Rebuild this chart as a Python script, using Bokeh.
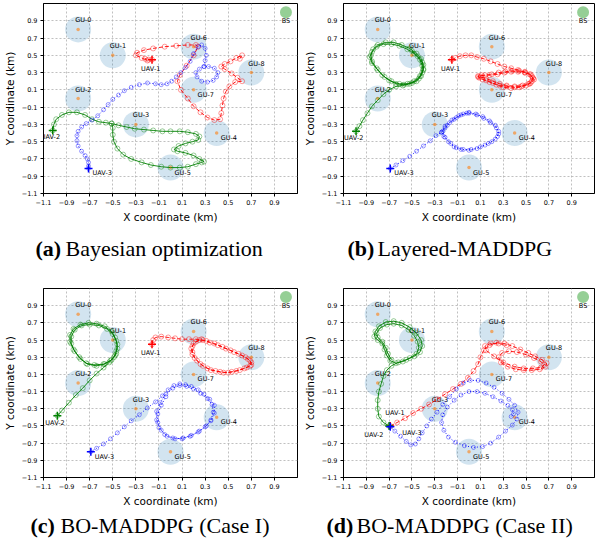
from bokeh.plotting import figure
from bokeh.layouts import column, row
from bokeh.models import FixedTicker, CustomJSTickFormatter, Range1d
from bokeh.embed import file_html
from bokeh.resources import INLINE
from bokeh.core.properties import value

# ---------------- data ----------------
TICKS = [-1.1, -0.9, -0.7, -0.5, -0.3, -0.1, 0.1, 0.3, 0.5, 0.7, 0.9]
TICK_LABELS = ["\u22121.1", "\u22120.9", "\u22120.7", "\u22120.5", "\u22120.3", "\u22120.1",
               "0.1", "0.3", "0.5", "0.7", "0.9"]

GU_NAMES = ["GU-0", "GU-1", "GU-2", "GU-3", "GU-4", "GU-5", "GU-6", "GU-7", "GU-8"]
GU_X = [-0.8, -0.5, -0.8, -0.3, 0.4, 0.0, 0.2, 0.2, 0.7]
GU_Y = [0.8, 0.5, 0.0, -0.3, -0.4, -0.8, 0.6, 0.1, 0.3]
GU_LABEL_SIDE = ["above", "above", "above", "above", "right", "right", "above", "right", "above"]
BS_X = [1.0]
BS_Y = [1.0]
BS_NAME = ["BS"]

UAV_NAMES = ["UAV-1", "UAV-2", "UAV-3"]
UAV_COLORS = ["#ff0000", "#008000", "#0000ff"]

CAPTION_TAGS = ["(a)", "(b)", "(c)", "(d)"]
CAPTION_TEXTS = ["Bayesian optimization", "Layered-MADDPG", "BO-MADDPG (Case I)", "BO-MADDPG (Case II)"]

# (a) Bayesian optimization
A_UAV1 = [(-0.16, 0.45), (-0.19, 0.45), (-0.22, 0.46), (-0.2, 0.44), (-0.25, 0.47), (-0.3, 0.5),
          (-0.29, 0.53), (-0.23, 0.56), (-0.15, 0.58), (-0.05, 0.6), (0.05, 0.61), (0.15, 0.62),
          (0.22, 0.62), (0.24, 0.6), (0.2, 0.5), (0.14, 0.38), (0.08, 0.27), (0.06, 0.2), (0.09, 0.1),
          (0.15, 0.0), (0.2, -0.09), (0.26, -0.16), (0.32, -0.22), (0.38, -0.25), (0.43, -0.24),
          (0.44, -0.17), (0.45, -0.08), (0.46, 0.0), (0.48, 0.08), (0.51, 0.14), (0.56, 0.19),
          (0.62, 0.2), (0.58, 0.24), (0.53, 0.29), (0.47, 0.34), (0.44, 0.37), (0.47, 0.4),
          (0.52, 0.43), (0.57, 0.47), (0.62, 0.5), (0.6, 0.46)]
A_UAV2 = [(-1.02, -0.37), (-1.01, -0.3), (-0.99, -0.24), (-0.94, -0.19), (-0.88, -0.16), (-0.81, -0.16),
          (-0.74, -0.19), (-0.68, -0.24), (-0.62, -0.27), (-0.56, -0.28), (-0.51, -0.29), (-0.5, -0.34),
          (-0.5, -0.42), (-0.49, -0.5), (-0.46, -0.58), (-0.41, -0.65), (-0.34, -0.7), (-0.25, -0.74),
          (-0.17, -0.77), (-0.08, -0.79), (0.0, -0.8), (0.08, -0.8), (0.15, -0.79), (0.22, -0.76),
          (0.27, -0.74), (0.29, -0.73), (0.25, -0.7), (0.2, -0.66), (0.13, -0.63), (0.06, -0.61),
          (0.03, -0.59), (0.07, -0.55), (0.13, -0.52), (0.19, -0.5), (0.24, -0.48), (0.25, -0.44),
          (0.22, -0.41), (0.15, -0.39), (0.08, -0.38), (0.0, -0.38), (-0.07, -0.38), (-0.15, -0.37),
          (-0.23, -0.36), (-0.31, -0.35), (-0.38, -0.33), (-0.45, -0.31), (-0.51, -0.29)]
A_UAV3 = [(-0.71, -0.81), (-0.71, -0.78), (-0.71, -0.74), (-0.72, -0.7), (-0.74, -0.66), (-0.77, -0.61),
          (-0.8, -0.55), (-0.81, -0.49), (-0.81, -0.43), (-0.8, -0.38), (-0.77, -0.33), (-0.73, -0.29),
          (-0.68, -0.25), (-0.63, -0.2), (-0.58, -0.13), (-0.54, -0.07), (-0.5, -0.01), (-0.45, 0.04),
          (-0.4, 0.09), (-0.34, 0.13), (-0.27, 0.16), (-0.2, 0.18), (-0.13, 0.17), (-0.08, 0.16),
          (-0.03, 0.17), (0.01, 0.2), (0.05, 0.25), (0.09, 0.3), (0.13, 0.36), (0.17, 0.43), (0.2, 0.52),
          (0.24, 0.6), (0.27, 0.62), (0.3, 0.58), (0.31, 0.5), (0.3, 0.44), (0.29, 0.37), (0.25, 0.34),
          (0.22, 0.3), (0.23, 0.25), (0.27, 0.2), (0.32, 0.19), (0.37, 0.21), (0.4, 0.25), (0.41, 0.3),
          (0.38, 0.35), (0.33, 0.37), (0.29, 0.37)]

# (b) Layered-MADDPG
B_UAV1 = [(-0.15, 0.45), (-0.12, 0.47), (-0.08, 0.49), (-0.03, 0.5), (0.02, 0.5), (0.07, 0.48), (0.13, 0.46),
          (0.19, 0.43), (0.25, 0.4), (0.31, 0.37), (0.37, 0.35), (0.43, 0.33), (0.49, 0.3), (0.53, 0.28),
          (0.56, 0.24), (0.55, 0.2), (0.52, 0.17), (0.46, 0.14), (0.4, 0.13), (0.33, 0.14), (0.27, 0.15),
          (0.21, 0.18), (0.15, 0.21), (0.09, 0.24), (0.08, 0.26), (0.14, 0.27), (0.2, 0.28), (0.26, 0.3),
          (0.32, 0.31), (0.38, 0.32), (0.44, 0.32), (0.49, 0.31), (0.54, 0.28), (0.56, 0.23), (0.54, 0.18),
          (0.5, 0.15), (0.44, 0.13), (0.37, 0.12), (0.3, 0.13), (0.24, 0.16), (0.18, 0.19), (0.12, 0.22),
          (0.08, 0.25), (0.11, 0.27), (0.18, 0.27), (0.25, 0.28), (0.31, 0.3), (0.37, 0.31), (0.43, 0.31),
          (0.49, 0.3), (0.55, 0.26), (0.57, 0.22), (0.53, 0.17), (0.47, 0.15), (0.4, 0.14), (0.33, 0.15),
          (0.27, 0.17), (0.21, 0.2), (0.15, 0.23), (0.1, 0.25)]
B_UAV2 = [(-0.99, -0.38), (-0.96, -0.32), (-0.93, -0.25), (-0.89, -0.17), (-0.85, -0.09), (-0.8, -0.02),
          (-0.75, 0.05), (-0.7, 0.1), (-0.64, 0.14), (-0.58, 0.15), (-0.52, 0.17), (-0.46, 0.2), (-0.42, 0.26),
          (-0.4, 0.33), (-0.4, 0.39), (-0.42, 0.46), (-0.46, 0.52), (-0.52, 0.58), (-0.59, 0.62), (-0.66, 0.65),
          (-0.73, 0.65), (-0.8, 0.62), (-0.84, 0.57), (-0.86, 0.5), (-0.85, 0.43), (-0.81, 0.35), (-0.76, 0.27),
          (-0.7, 0.21), (-0.64, 0.17), (-0.57, 0.16), (-0.5, 0.18), (-0.44, 0.23), (-0.41, 0.3), (-0.41, 0.38),
          (-0.43, 0.45), (-0.48, 0.52), (-0.54, 0.57), (-0.61, 0.61), (-0.68, 0.63), (-0.75, 0.63), (-0.81, 0.6),
          (-0.85, 0.54), (-0.87, 0.48), (-0.85, 0.41), (-0.8, 0.33), (-0.74, 0.25), (-0.68, 0.2), (-0.61, 0.17),
          (-0.54, 0.17), (-0.48, 0.2), (-0.43, 0.26), (-0.4, 0.34), (-0.41, 0.42), (-0.45, 0.49), (-0.5, 0.55)]
B_UAV3 = [(-0.69, -0.81), (-0.64, -0.77), (-0.58, -0.72), (-0.52, -0.67), (-0.46, -0.61), (-0.4, -0.55),
          (-0.34, -0.49), (-0.29, -0.43), (-0.24, -0.39), (-0.21, -0.34), (-0.17, -0.28), (-0.11, -0.22),
          (-0.05, -0.18), (0.0, -0.16), (0.06, -0.18), (0.12, -0.21), (0.18, -0.26), (0.23, -0.31),
          (0.26, -0.38), (0.25, -0.44), (0.2, -0.5), (0.14, -0.54), (0.07, -0.58), (0.0, -0.6), (-0.07, -0.59),
          (-0.13, -0.56), (-0.18, -0.5), (-0.22, -0.44), (-0.23, -0.38), (-0.19, -0.31), (-0.13, -0.24),
          (-0.07, -0.19), (0.0, -0.17), (0.07, -0.19), (0.13, -0.23), (0.19, -0.28), (0.24, -0.34),
          (0.26, -0.41), (0.23, -0.47), (0.17, -0.52), (0.1, -0.56), (0.02, -0.59), (-0.05, -0.59),
          (-0.11, -0.57), (-0.16, -0.52), (-0.21, -0.45), (-0.24, -0.39), (-0.21, -0.32), (-0.15, -0.25),
          (-0.09, -0.2), (-0.02, -0.17)]

# (c) BO-MADDPG (Case I)
C_UAV1 = [(-0.16, 0.45), (-0.15, 0.5), (-0.13, 0.53), (-0.08, 0.54), (-0.02, 0.53), (0.04, 0.52), (0.1, 0.51),
          (0.16, 0.51), (0.22, 0.51), (0.28, 0.5), (0.34, 0.47), (0.41, 0.44), (0.48, 0.4), (0.55, 0.36),
          (0.62, 0.32), (0.67, 0.28), (0.7, 0.24), (0.69, 0.2), (0.64, 0.17), (0.57, 0.14), (0.5, 0.12),
          (0.43, 0.13), (0.35, 0.15), (0.28, 0.2), (0.23, 0.26), (0.19, 0.33), (0.18, 0.4), (0.2, 0.46),
          (0.25, 0.5), (0.31, 0.49), (0.38, 0.46), (0.45, 0.42), (0.52, 0.38), (0.59, 0.34), (0.65, 0.3),
          (0.69, 0.26), (0.7, 0.21), (0.66, 0.18), (0.6, 0.15), (0.53, 0.13), (0.46, 0.12), (0.39, 0.14),
          (0.32, 0.17), (0.26, 0.22), (0.21, 0.29), (0.19, 0.36), (0.19, 0.43), (0.22, 0.48), (0.27, 0.51)]
C_UAV2 = [(-0.98, -0.38), (-0.94, -0.32), (-0.88, -0.23), (-0.82, -0.14), (-0.76, -0.06), (-0.7, 0.03),
          (-0.64, 0.11), (-0.58, 0.18), (-0.53, 0.24), (-0.49, 0.3), (-0.47, 0.37), (-0.46, 0.45), (-0.48, 0.53),
          (-0.51, 0.6), (-0.57, 0.66), (-0.64, 0.69), (-0.71, 0.7), (-0.78, 0.68), (-0.84, 0.63), (-0.87, 0.56),
          (-0.87, 0.48), (-0.84, 0.39), (-0.79, 0.3), (-0.73, 0.23), (-0.66, 0.21), (-0.58, 0.22), (-0.52, 0.26),
          (-0.48, 0.32), (-0.46, 0.4), (-0.47, 0.49), (-0.5, 0.57), (-0.55, 0.63), (-0.62, 0.67), (-0.7, 0.68),
          (-0.77, 0.67), (-0.83, 0.62), (-0.86, 0.54), (-0.86, 0.46), (-0.83, 0.37), (-0.78, 0.28), (-0.72, 0.22),
          (-0.64, 0.2), (-0.57, 0.22), (-0.51, 0.27), (-0.47, 0.34)]
C_UAV3 = [(-0.69, -0.8), (-0.64, -0.76), (-0.58, -0.71), (-0.52, -0.65), (-0.46, -0.58), (-0.4, -0.51),
          (-0.34, -0.44), (-0.27, -0.37), (-0.2, -0.29), (-0.13, -0.22), (-0.07, -0.15), (-0.02, -0.08),
          (0.03, -0.03), (0.08, -0.01), (0.13, -0.02), (0.18, -0.04), (0.24, -0.08), (0.29, -0.13), (0.34, -0.19),
          (0.38, -0.26), (0.38, -0.35), (0.35, -0.44), (0.3, -0.51), (0.24, -0.57), (0.17, -0.62), (0.1, -0.65),
          (0.02, -0.64), (-0.05, -0.6), (-0.1, -0.52), (-0.12, -0.43), (-0.12, -0.33), (-0.09, -0.23),
          (-0.04, -0.13), (0.02, -0.06), (0.08, -0.03), (0.14, -0.04), (0.2, -0.07), (0.26, -0.12), (0.32, -0.18),
          (0.36, -0.25), (0.37, -0.34), (0.35, -0.43), (0.31, -0.5), (0.25, -0.56), (0.18, -0.61), (0.11, -0.64),
          (0.04, -0.65), (-0.03, -0.62), (-0.08, -0.55), (-0.11, -0.46), (-0.11, -0.36), (-0.08, -0.26),
          (-0.04, -0.16)]

# (d) BO-MADDPG (Case II)
D_UAV1 = [(-0.69, -0.5), (-0.63, -0.46), (-0.56, -0.41), (-0.49, -0.35), (-0.42, -0.3), (-0.35, -0.25),
          (-0.28, -0.19), (-0.21, -0.13), (-0.14, -0.07), (-0.07, -0.01), (-0.01, 0.06), (0.04, 0.14),
          (0.08, 0.22), (0.1, 0.3), (0.13, 0.38), (0.18, 0.44), (0.24, 0.47), (0.31, 0.46), (0.38, 0.43),
          (0.45, 0.39), (0.52, 0.35), (0.58, 0.31), (0.64, 0.27), (0.68, 0.23), (0.67, 0.19), (0.62, 0.16),
          (0.55, 0.15), (0.48, 0.15), (0.41, 0.16), (0.34, 0.19), (0.28, 0.24), (0.26, 0.3), (0.29, 0.35),
          (0.35, 0.37), (0.42, 0.36), (0.5, 0.33), (0.57, 0.29), (0.63, 0.25), (0.66, 0.21), (0.63, 0.18),
          (0.56, 0.17), (0.48, 0.17), (0.4, 0.19), (0.3, 0.24), (0.22, 0.31), (0.15, 0.38), (0.14, 0.43),
          (0.19, 0.46), (0.26, 0.46), (0.33, 0.44)]
D_UAV2 = [(-0.7, -0.5), (-0.75, -0.46), (-0.79, -0.39), (-0.8, -0.3), (-0.8, -0.2), (-0.79, -0.1),
          (-0.77, -0.01), (-0.75, 0.08), (-0.72, 0.15), (-0.68, 0.2), (-0.62, 0.24), (-0.55, 0.27), (-0.48, 0.31),
          (-0.43, 0.36), (-0.41, 0.43), (-0.42, 0.5), (-0.46, 0.58), (-0.52, 0.65), (-0.59, 0.7), (-0.66, 0.72),
          (-0.73, 0.71), (-0.79, 0.66), (-0.82, 0.6), (-0.83, 0.54), (-0.8, 0.5), (-0.76, 0.46), (-0.74, 0.39),
          (-0.72, 0.32), (-0.69, 0.26), (-0.64, 0.23), (-0.58, 0.25), (-0.52, 0.29), (-0.46, 0.34), (-0.44, 0.41),
          (-0.45, 0.48), (-0.48, 0.55), (-0.53, 0.62), (-0.59, 0.67), (-0.66, 0.69), (-0.72, 0.68), (-0.78, 0.64),
          (-0.81, 0.58), (-0.8, 0.53), (-0.76, 0.48), (-0.73, 0.41), (-0.71, 0.34), (-0.68, 0.27)]
D_UAV3 = [(-0.69, -0.51), (-0.65, -0.56), (-0.6, -0.62), (-0.55, -0.68), (-0.51, -0.72), (-0.47, -0.71),
          (-0.44, -0.65), (-0.41, -0.58), (-0.37, -0.5), (-0.33, -0.42), (-0.28, -0.34), (-0.23, -0.25),
          (-0.17, -0.16), (-0.11, -0.07), (-0.05, 0.0), (0.01, 0.03), (0.08, 0.03), (0.15, 0.0), (0.22, -0.05),
          (0.29, -0.12), (0.35, -0.19), (0.4, -0.26), (0.43, -0.34), (0.42, -0.42), (0.38, -0.49), (0.32, -0.56),
          (0.26, -0.63), (0.19, -0.7), (0.12, -0.74), (0.04, -0.75), (-0.04, -0.73), (-0.12, -0.69),
          (-0.18, -0.63), (-0.22, -0.55), (-0.24, -0.46), (-0.23, -0.37), (-0.19, -0.28), (-0.13, -0.2),
          (-0.07, -0.14), (0.0, -0.1), (0.07, -0.1), (0.14, -0.12), (0.21, -0.16), (0.28, -0.21), (0.34, -0.26),
          (0.38, -0.31), (0.39, -0.36), (0.37, -0.39)]

PANEL_TRAJS = [[A_UAV1, A_UAV2, A_UAV3], [B_UAV1, B_UAV2, B_UAV3],
               [C_UAV1, C_UAV2, C_UAV3], [D_UAV1, D_UAV2, D_UAV3]]

# ---------------- styling / layout ----------------
COL_W = [299, 296]            # left / right column widths
COL_BORDER_L = [42, 44]
COL_BORDER_R = [2, 1]
LINE_DASH = ["4 2", "solid", "1 2"]
MARKER_SIZE = [5, 5, 4]
UAV_LABEL_OFFSETS_STD = [(-11, 9), (-12, 7), (4, 5)]
UAV_LABEL_OFFSETS_D = [(-5, -13), (-25, 9), (12, 6)]
CAPTION_TEXT_X = [65, 78, 60, 57]   # px from the caption strip's left edge
CAPTION_TAG_GAP = 30               # tag starts this many px before the text
FONT = "DejaVu Sans"
SERIF = "Liberation Serif"

fmt = CustomJSTickFormatter(args=dict(tvals=TICKS, tlabels=TICK_LABELS), code="""
let best = 0;
for (let i = 0; i < tvals.length; i++) {
  if (Math.abs(tvals[i] - tick) < Math.abs(tvals[best] - tick)) best = i;
}
return tlabels[best];
""")


def make_panel(idx, height, border_bottom):
    colno = idx % 2
    p = figure(width=COL_W[colno], height=height, x_range=Range1d(-1.1, 1.1), y_range=Range1d(-1.1, 1.1),
               output_backend="svg", toolbar_location=None,
               min_border_left=COL_BORDER_L[colno], min_border_right=COL_BORDER_R[colno],
               min_border_top=3, min_border_bottom=border_bottom)
    p.outline_line_color = "black"
    p.outline_line_width = 1
    p.background_fill_color = "white"
    p.border_fill_color = "white"
    for ax in (p.xaxis, p.yaxis):
        ax.ticker = FixedTicker(ticks=TICKS)
        ax.formatter = fmt
        ax.major_label_text_font = FONT
        ax.major_label_text_font_size = "6.5px"
        ax.major_label_text_color = "black"
        ax.axis_label_text_font = FONT
        ax.axis_label_text_font_size = "10.5px"
        ax.axis_label_text_font_style = "normal"
        ax.axis_label_text_color = "black"
        ax.axis_line_color = "black"
        ax.major_tick_line_color = "black"
        ax.major_tick_out = 3
        ax.major_tick_in = 0
        ax.minor_tick_out = 0
        ax.minor_tick_in = 0
        ax.major_label_standoff = 3
        ax.axis_label_standoff = 3
    p.xaxis.axis_label = "X coordinate (km)"
    p.yaxis.axis_label = "Y coordinate (km)"
    for g in (p.xgrid, p.ygrid):
        g.ticker = FixedTicker(ticks=TICKS)
        g.grid_line_color = "#b0b0b0"
        g.grid_line_dash = "2 2"
        g.grid_line_alpha = 0.8

    # ground units and base station
    p.scatter(GU_X, GU_Y, size=26, fill_color="#1f77b4", fill_alpha=0.2, line_color=None)
    p.scatter(GU_X, GU_Y, size=3.5, fill_color="#ff7f0e", fill_alpha=0.6, line_color=None)
    p.scatter(BS_X, BS_Y, size=12, fill_color="#2ca02c", fill_alpha=0.5, line_color=None)

    for side, xo, yo in (("above", -3, -9), ("right", 4, 5)):
        sel = [i for i, s in enumerate(GU_LABEL_SIDE) if s == side]
        p.text([GU_X[i] for i in sel], [GU_Y[i] for i in sel], text=[GU_NAMES[i] for i in sel],
               x_offset=xo, y_offset=yo, text_font=value(FONT), text_font_size="6.5px",
               text_baseline="middle", text_align="left", text_color="black")
    p.text(BS_X, BS_Y, text=BS_NAME, y_offset=9, text_font=value(FONT), text_font_size="6.5px",
           text_baseline="middle", text_align="center", text_color="black")

    offsets = UAV_LABEL_OFFSETS_D if idx == 3 else UAV_LABEL_OFFSETS_STD
    for k, traj in enumerate(PANEL_TRAJS[idx]):
        xs = [pt[0] for pt in traj]
        ys = [pt[1] for pt in traj]
        col = UAV_COLORS[k]
        p.line(xs, ys, line_color=col, line_width=1, line_dash=LINE_DASH[k], line_alpha=0.9)
        p.scatter(xs, ys, marker="circle", size=MARKER_SIZE[k], fill_color=None,
                  line_color=col, line_alpha=0.4, line_width=1)
        p.scatter(xs[:1], ys[:1], marker="cross", size=8, line_color=col, line_width=1.5)
        p.text(xs[:1], ys[:1], text=[UAV_NAMES[k]], x_offset=offsets[k][0], y_offset=offsets[k][1],
               text_font=value(FONT), text_font_size="6.5px", text_baseline="middle",
               text_align="left", text_color="black")
    return p


def make_caption(idx, height, baseline_from_top):
    w = COL_W[idx % 2]
    c = figure(width=w, height=height, x_range=Range1d(0, w), y_range=Range1d(0, height),
               output_backend="svg", toolbar_location=None, x_axis_type=None, y_axis_type=None,
               min_border=0)
    c.outline_line_color = None
    c.grid.visible = False
    c.background_fill_color = "white"
    c.border_fill_color = "white"
    yb = height - baseline_from_top
    xt = CAPTION_TEXT_X[idx]
    c.text([xt - CAPTION_TAG_GAP], [yb], text=[CAPTION_TAGS[idx]], text_font=value(SERIF),
           text_font_style="bold", text_font_size="22px", text_baseline="alphabetic",
           text_align="left", text_color="black")
    c.text([xt], [yb], text=[CAPTION_TEXTS[idx]], text_font=value(SERIF),
           text_font_size="22px", text_baseline="alphabetic", text_align="left", text_color="black")
    return c


pa = make_panel(0, 227, 34)
pb = make_panel(1, 227, 34)
ca = make_caption(0, 58, 21)
cb = make_caption(1, 58, 21)
pc = make_panel(2, 224, 31)
pd = make_panel(3, 224, 31)
cc = make_caption(2, 29, 16)
cd = make_caption(3, 29, 16)

layout = column(row(pa, pb), row(ca, cb), row(pc, pd), row(cc, cd))
open("out.html", "w").write(file_html(layout, INLINE))
